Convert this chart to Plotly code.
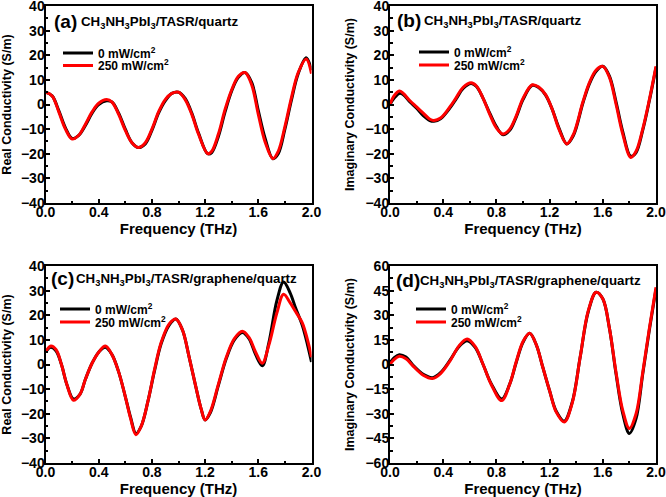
import plotly.graph_objects as go

# ---------------- data ----------------
# (a) Real conductivity, CH3NH3PbI3/TASR/quartz
fa = [0.00, 0.05, 0.10, 0.15, 0.20, 0.25, 0.30, 0.35, 0.40, 0.46, 0.50, 0.55, 0.60, 0.65, 0.70,
      0.75, 0.80, 0.85, 0.90, 0.95, 1.00, 1.05, 1.10, 1.15, 1.22, 1.25, 1.30, 1.35, 1.40, 1.45,
      1.50, 1.55, 1.60, 1.65, 1.71, 1.75, 1.80, 1.85, 1.90, 1.96, 2.00]
a_dark = [5, 3.5, -2.5, -9.5, -13.8, -12.5, -8.5, -3.5, 0, 1.5, 1, -3.5, -10, -15.5, -17.5,
          -16, -10.5, -3.5, 1.5, 4.5, 5, 2.5, -3.5, -11.5, -20, -19.5, -13, -3, 5.5, 11,
          13, 9, -2.5, -13.5, -22, -20, -10, 2, 12.5, 19, 14]
a_light = [5, 3.5, -3, -10, -14, -12.5, -8, -3, 0.5, 2, 1, -4, -10.5, -15.5, -17.5,
           -15.5, -10, -3, 2, 4.5, 5, 2, -4, -12, -20, -19, -12, -2, 6, 11.5,
           13, 8, -4, -15, -22, -19, -9, 3, 13, 18.5, 12.5]

# (b) Imaginary conductivity, CH3NH3PbI3/TASR/quartz
fb = [0.00, 0.03, 0.07, 0.10, 0.15, 0.20, 0.25, 0.30, 0.33, 0.38, 0.45, 0.50, 0.55, 0.61, 0.65,
      0.70, 0.75, 0.80, 0.85, 0.90, 0.95, 1.00, 1.07, 1.12, 1.17, 1.22, 1.27, 1.33, 1.38, 1.45,
      1.50, 1.55, 1.60, 1.65, 1.70, 1.75, 1.81, 1.85, 1.90, 1.95, 2.00]
b_dark = [0, 2.5, 4.5, 4, 1, -1.5, -4.5, -6.5, -6.8, -5.8, -1.5, 2.5, 6.5, 8.5, 7.3,
          2.5, -3.5, -9, -12.3, -10.5, -5, 2, 7.8, 6.8, 3.8, -2, -9.5, -16, -12.5, 0.5,
          8.5, 13.5, 15.5, 11.5, 1, -11, -21, -19.5, -10.5, 1.5, 15]
b_light = [0, 3.5, 5.5, 4.5, 1.5, -1, -3.5, -6, -6.5, -5.5, -1, 3, 7, 8.8, 7.5,
           2.5, -4, -9.5, -12, -10, -4.5, 2.5, 8, 7, 4, -2, -10, -16, -12, 1,
           9, 14, 15.5, 11, 0, -12, -21.5, -19, -10, 2, 15.5]

# (c) Real conductivity, CH3NH3PbI3/TASR/graphene/quartz
fc = [0.00, 0.04, 0.08, 0.12, 0.16, 0.21, 0.26, 0.30, 0.35, 0.40, 0.45, 0.50, 0.55, 0.60, 0.64,
      0.68, 0.72, 0.77, 0.82, 0.87, 0.93, 0.98, 1.03, 1.08, 1.13, 1.17, 1.20, 1.24, 1.30, 1.36,
      1.42, 1.48, 1.53, 1.58, 1.63, 1.68, 1.74, 1.79, 1.84, 1.88, 1.93, 1.97, 2.00]
c_dark = [5, 7, 5.5, 0, -8, -14, -12, -6, 0.5, 5, 7, 4, -3, -13, -21.5,
          -28, -25, -15, -2.5, 8.5, 16, 18.5, 14, 3, -9, -18, -22.5, -19.5, -8.5, 2.5,
          10, 13, 10.5, 4, -0.5, 9, 26, 33.5, 29, 23, 16, 8, 1]
c_light = [5, 7.5, 6, 0, -8, -14.5, -12, -6, 0.5, 5, 7.5, 4, -3, -13, -22,
           -28.5, -25, -15, -2, 9, 16.5, 18.5, 14, 3, -9, -18, -22.5, -19, -8, 3,
           10.5, 13.5, 11, 5, 0.5, 8, 21, 28.5, 25, 21.5, 17, 10, 3]

# (d) Imaginary conductivity, CH3NH3PbI3/TASR/graphene/quartz
fd = [0.00, 0.03, 0.07, 0.12, 0.18, 0.25, 0.32, 0.38, 0.45, 0.52, 0.58, 0.64, 0.70, 0.76, 0.84,
      0.90, 0.95, 1.00, 1.05, 1.10, 1.15, 1.20, 1.25, 1.31, 1.37, 1.43, 1.49, 1.55, 1.60, 1.65,
      1.70, 1.75, 1.80, 1.85, 1.90, 1.95, 2.00]
d_dark = [1, 4, 6, 4.5, -1, -6, -8, -5, 2.5, 11, 14.5, 10.5, 0, -11.5, -21,
          -12, 1.5, 13.5, 19, 12, -2, -16, -28.5, -34.5, -23, 4.5, 32, 44, 40, 22,
          -6, -30, -42, -33, -6, 21, 46]
d_light = [0, 3, 5, 3.5, -1.5, -6.5, -8.5, -5.5, 2, 11.5, 15.5, 11, 0, -12, -22,
           -12, 2, 14, 19, 12, -2, -16, -29, -35, -23.5, 4.5, 32.5, 44, 40, 22,
           -5, -28, -39, -30, -5, 22, 47]

legend_labels = ["0 mW/cm<sup>2</sup>", "250 mW/cm<sup>2</sup>"]
panel_letters = ["(a)", "(b)", "(c)", "(d)"]
panel_samples = ["CH<sub>3</sub>NH<sub>3</sub>PbI<sub>3</sub>/TASR/quartz",
                 "CH<sub>3</sub>NH<sub>3</sub>PbI<sub>3</sub>/TASR/quartz",
                 "CH<sub>3</sub>NH<sub>3</sub>PbI<sub>3</sub>/TASR/graphene/quartz",
                 "CH<sub>3</sub>NH<sub>3</sub>PbI<sub>3</sub>/TASR/graphene/quartz"]
y_titles = ["Real Conductivity (S/m)", "Imaginary Conductivity (S/m)",
            "Real Conductivity (S/m)", "Imaginary Conductivity (S/m)"]
x_ticks = [0.0, 0.4, 0.8, 1.2, 1.6, 2.0]

# ---------------- figure ----------------
W, H = 666, 497
FONT = "Liberation Sans, Arial, sans-serif"

panels = [(fa, a_dark, a_light), (fb, b_dark, b_light), (fc, c_dark, c_light), (fd, d_dark, d_light)]

# pixel boxes (left, right, top, bottom)
boxes = [(45.5, 311.5, 6, 203), (390, 656, 6, 203), (45.5, 311.5, 266, 463), (390, 656, 266, 463)]
# legend: (line start x, y of first entry, y of second entry)
legend_pos = [(65, 53, 65.5), (421, 52, 65), (62, 309, 322), (418, 309, 322)]
letter_pos = [(52, 22), (395, 21), (49, 278), (394, 280)]
sample_pos = [(79, 23), (422, 22), (74, 279), (418, 281)]

fig = go.Figure()
colors = ["#000000", "#ff0000"]
leg_idx = 0
layout = dict(
    width=W, height=H, margin=dict(l=0, r=0, t=0, b=0),
    paper_bgcolor="white", plot_bgcolor="white",
    font=dict(family=FONT, color="black", size=12, weight="bold"),
    annotations=[],
)

for i, (f, dk, lt) in enumerate(panels):
    n = "" if i == 0 else str(i + 1)
    lx, ly1, ly2 = legend_pos[i]
    for j, ys in enumerate([dk, lt]):
        leg_idx += 1
        lg = "legend" if leg_idx == 1 else f"legend{leg_idx}"
        fig.add_trace(go.Scatter(
            x=f, y=ys, mode="lines", name=legend_labels[j],
            line=dict(color=colors[j], width=3, shape="spline", smoothing=1.0),
            xaxis="x" + n, yaxis="y" + n, legend=lg, showlegend=True))
        ly = ly1 if j == 0 else ly2
        layout[lg] = dict(x=(lx - 7) / W, y=1 - ly / H, xanchor="left", yanchor="middle",
                          bgcolor="rgba(0,0,0,0)", borderwidth=0,
                          font=dict(family=FONT, size=12, weight="bold"),
                          itemwidth=30)

for i in range(4):
    n = "" if i == 0 else str(i + 1)
    l, r, t, b = boxes[i]
    isd = (i == 3)
    common = dict(showline=True, linewidth=2, linecolor="black", mirror=True,
                  ticks="inside", ticklen=4, tickwidth=2, tickcolor="black",
                  showgrid=False, zeroline=False, automargin=False,
                  ticklabeloverflow="allow",
                  tickfont=dict(family=FONT, size=14, weight="bold"))
    layout["xaxis" + n] = dict(
        common, domain=[l / W, r / W], anchor="y" + n, range=[0, 2],
        tickvals=x_ticks, tickformat=".1f", ticklabelstandoff=-5,
        minor=dict(ticks="inside", ticklen=2.5, tickwidth=1.5, dtick=0.2, tick0=0, tickcolor="black"),
        title=dict(text="Frequency (THz)", font=dict(family=FONT, size=15, weight="bold"), standoff=1))
    layout["yaxis" + n] = dict(
        common, domain=[1 - b / H, 1 - t / H], anchor="x" + n,
        range=[-60, 60] if isd else [-40, 40], dtick=15 if isd else 10, tick0=0,
        ticklabelstandoff=-4,
        minor=dict(ticks="inside", ticklen=2.5, tickwidth=1.5, dtick=7.5 if isd else 5, tickcolor="black"),
        title=dict(text=y_titles[i], font=dict(family=FONT, size=12.5, weight="bold"), standoff=8))
    ax, ay = letter_pos[i]
    layout["annotations"].append(dict(
        text=panel_letters[i], xref="paper", yref="paper", x=ax / W, y=1 - ay / H,
        xanchor="left", yanchor="middle", showarrow=False,
        font=dict(family=FONT, size=19, weight="bold")))
    sx, sy = sample_pos[i]
    layout["annotations"].append(dict(
        text=panel_samples[i], xref="paper", yref="paper", x=sx / W, y=1 - sy / H,
        xanchor="left", yanchor="middle", showarrow=False,
        font=dict(family=FONT, size=13.3, weight="bold")))

fig.update_layout(**layout)
fig.write_html("out.html", config={"displayModeBar": False},
               post_script="document.body.style.margin='0';document.body.style.overflow='hidden';")
